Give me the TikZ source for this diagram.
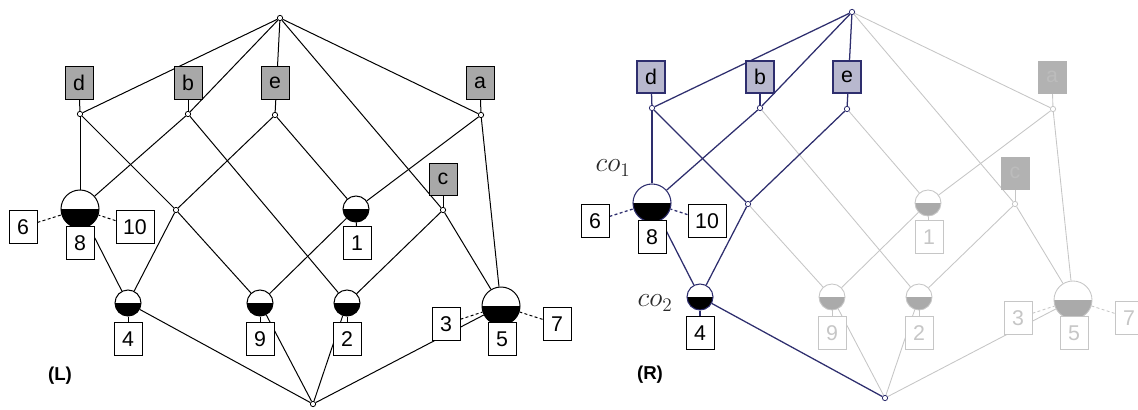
\documentclass[tikz,border=0pt]{standalone}
\usepackage{fontspec}
\setmainfont{Liberation Sans}
\usetikzlibrary{backgrounds}
\definecolor{navy}{HTML}{2E2E6E}
\definecolor{lav}{HTML}{B8B8CE}
\definecolor{lgray}{HTML}{C6C6C6}
\definecolor{mgray}{HTML}{B2B2B2}
\definecolor{tgray}{HTML}{BCBCBC}
\definecolor{hgray}{HTML}{AAAAAA}
\definecolor{boxgray}{HTML}{A8A8A8}
\definecolor{cotext}{HTML}{2A2A2A}
\tikzset{
 lbox/.style={rectangle, minimum width=21pt, minimum height=24pt, inner sep=0pt, font=\fontsize{16}{16}\selectfont},
 nbox/.style={rectangle, fill=white, minimum width=21pt, minimum height=24.75pt, inner sep=0pt, font=\fontsize{16}{16}\selectfont},
 wbox/.style={nbox, minimum width=28.5pt},
 lpt/.style={circle, fill=white, minimum size=4pt, inner sep=0pt},
 half/.style={circle, fill=white, inner sep=0pt, path picture={\fill[#1] (path picture bounding box.west) rectangle (path picture bounding box.south east);}},
 bighalf/.style={minimum size=28.5pt},
 smallhalf/.style={minimum size=19.5pt},
 dsh/.style={dash pattern=on 2.2pt off 1.8pt},
 panel/.style={font=\bfseries\fontsize{14}{14}\selectfont},
 colab/.style={text=cotext, font=\fontsize{21}{21}\selectfont},
}
\newcommand\drawlattice{%
 \node[lpt, pA] (T) at (280,18) {};
 \node[lpt, pA] (B) at (313,404) {};
 \node[lpt, pA] (dp) at (80,114) {};
 \node[lpt, pA] (bp) at (188,114) {};
 \node[lpt, pA] (ep) at (275,115) {};
 \node[lpt, pG] (ap) at (481,115) {};
 \node[lpt, pG] (cp) at (443,210) {};
 \node[lpt, pA] (P) at (176,210) {};
 \node[lbox, lA] (d) at (79,83) {d};
 \node[lbox, lA] (b) at (188,83) {b};
 \node[lbox, lA] (e) at (275,83) {e};
 \node[lbox, lG] (a) at (480,83) {a};
 \node[lbox, lG] (c) at (443,179) {c};
 \node[bighalf, hA] (n8) at (80,209) {};
 \node[smallhalf, hG] (n1) at (356,209) {};
 \node[smallhalf, hA] (n4) at (128,303) {};
 \node[smallhalf, hG] (n9) at (260,303) {};
 \node[smallhalf, hG] (n2) at (347,303) {};
 \node[bighalf, hG] (n5) at (501,306) {};
 \node[nbox, nA] (x8) at (80,243) {8};
 \node[nbox, nA] (x6) at (23,227) {6};
 \node[wbox, nA] (x10) at (135,227) {10};
 \node[nbox, nG] (x1) at (357,243) {1};
 \node[nbox, nA] (x4) at (128,339) {4};
 \node[nbox, nG] (x9) at (260,339) {9};
 \node[nbox, nG] (x2) at (347,339) {2};
 \node[nbox, nG] (x5) at (502,339) {5};
 \node[nbox, nG] (x3) at (446,324) {3};
 \node[nbox, nG] (x7) at (557,324) {7};
 \begin{pgfonlayer}{background}
  \draw[eG] (T) -- (cp);
  \draw[eG] (T) -- (ap);
  \draw[eG] (a) -- (ap);
  \draw[eG] (c) -- (cp);
  \draw[eG] (P) -- (n9);
  \draw[eG] (bp) -- (n2);
  \draw[eG] (ep) -- (n1);
  \draw[eG] (ap) -- (n1);
  \draw[eG] (ap) -- (n5);
  \draw[eG] (cp) -- (n5);
  \draw[eG] (cp) -- (n2);
  \draw[eG] (n1) -- (n9);
  \draw[eG] (n9) -- (B);
  \draw[eG] (n2) -- (B);
  \draw[eG] (n5) -- (B);
  \draw[eG] (n1) -- (x1);
  \draw[eG] (n9) -- (x9);
  \draw[eG] (n2) -- (x2);
  \draw[eG] (n5) -- (x5);
  \draw[eG, dsh] (x3) -- (n5);
  \draw[eG, dsh] (x7) -- (n5);
  \draw[eA] (T) -- (dp);
  \draw[eA] (T) -- (bp);
  \draw[eA] (T) -- (ep);
  \draw[eA] (d) -- (dp);
  \draw[eA] (b) -- (bp);
  \draw[eA] (dp) -- (n8);
  \draw[eA] (dp) -- (P);
  \draw[eA] (bp) -- (n8);
  \draw[eA] (ep) -- (P);
  \draw[eA] (n8) -- (n4);
  \draw[eA] (P) -- (n4);
  \draw[eA] (n4) -- (B);
  \draw[eA] (n4) -- (x4);
  \draw[eA, dsh] (x6) -- (n8);
  \draw[eA, dsh] (x10) -- (n8);
 \end{pgfonlayer}
}
\begin{document}
\begin{tikzpicture}[x=0.75pt, y=-0.75pt]
\useasboundingbox (0,0) rectangle (1138,410);
\begin{scope}[name prefix=L-,
  eA/.style={draw=black, line width=0.75pt},
  eG/.style={draw=black, line width=0.75pt},
  pA/.style={draw=black, line width=0.6pt},
  pG/.style={draw=black, line width=0.6pt},
  lA/.style={draw=black, fill=boxgray, text=black, line width=0.75pt},
  lG/.style={draw=black, fill=boxgray, text=black, line width=0.75pt},
  nA/.style={draw=black, text=black, line width=0.75pt},
  nG/.style={draw=black, text=black, line width=0.75pt},
  hA/.style={half=black, draw=black, line width=0.75pt},
  hG/.style={half=black, draw=black, line width=0.75pt}]
 \drawlattice
\end{scope}
\begin{scope}[shift={(572,-6)}, name prefix=R-,
  eA/.style={draw=navy, line width=0.95pt},
  eG/.style={draw=lgray, line width=0.65pt},
  pA/.style={draw=navy, line width=0.6pt},
  pG/.style={draw=lgray, line width=0.6pt},
  lA/.style={draw=navy, fill=lav, text=black, line width=0.8pt},
  lG/.style={draw=mgray, fill=mgray, text=tgray, line width=0.6pt},
  nA/.style={draw=black, text=black, line width=0.75pt},
  nG/.style={draw=lgray, text=lgray, line width=0.65pt},
  hA/.style={half=black, draw=navy, line width=0.8pt},
  hG/.style={half=hgray, draw=lgray, line width=0.65pt}]
 \drawlattice
\end{scope}
\node[panel] (Llab) at (60,376) {(L)};
\node[panel] (Rlab) at (650,375) {(R)};
\node[colab] (co1) at (613,168) {$co_1$};
\node[colab] (co2) at (655,303) {$co_2$};
\end{tikzpicture}
\end{document}
